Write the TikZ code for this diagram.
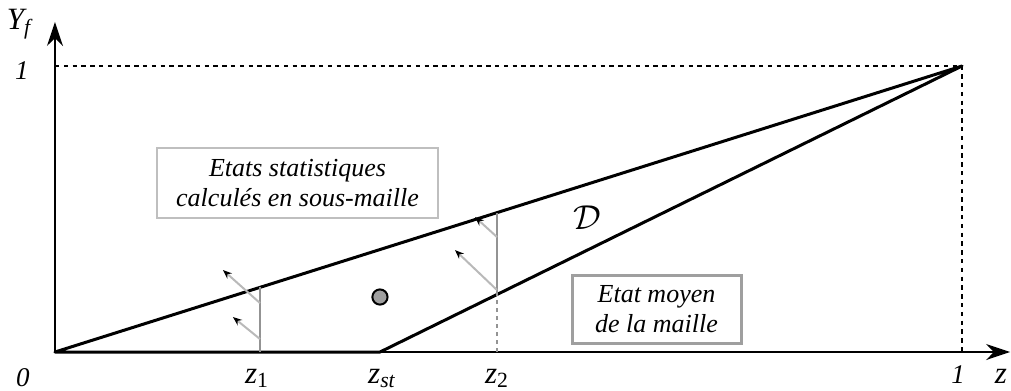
\documentclass[tikz,border=0pt]{standalone}
\usepackage{fontspec}
\setmainfont{Liberation Serif}
\usetikzlibrary{arrows.meta}

\begin{document}
\begin{tikzpicture}[x=453.5pt, y=143pt,
    axe/.style={line width=0.8pt, -{Stealth[length=12pt,width=8pt]}},
    bord/.style={line width=1.5pt},
    tiret/.style={line width=0.6pt, dash pattern=on 2.2pt off 2.2pt},
    coupe/.style={gray!85, line width=1pt},
    fleche/.style={gray!55, line width=1pt, -{Stealth[black,length=4.5pt,width=3.5pt]}},
    boite/.style={align=center, font=\itshape\fontsize{13}{15}\selectfont, inner sep=0pt},
    lab/.style={font=\itshape\fontsize{15.5}{17}\selectfont},
    petit/.style={font=\itshape\fontsize{13.5}{15}\selectfont}]
        % Bounding box
        \useasboundingbox (-0.0606,-0.1329) rectangle (1.0540,1.2308);

        % Points
        \coordinate (O) at (0,0);
        \coordinate (A) at (1,1);
        \coordinate (Zst) at (0.3583,0);
        \coordinate (Z1b) at (0.2260,0);
        \coordinate (Z1h) at (0.2260,0.2260);
        \coordinate (Z2b) at (0.4873,0);
        \coordinate (Z2m) at (0.4873,0.2011);
        \coordinate (Z2h) at (0.4873,0.4873);

        % Axes
        \draw[axe] (O) -- (1.053,0) coordinate (Xmax);
        \draw[axe] (O) -- (0,1.154) coordinate (Ymax);
        \draw[tiret] (0,1) coordinate (Y1) -- (A) -- (1,0) coordinate (X1);

        % Domain D
        \draw[bord, line join=round] (O) -- (A) -- (Zst) -- cycle;

        % Cuts at z1 and z2
        \draw[coupe] (Z1b) -- (Z1h);
        \draw[coupe] (Z2m) -- (Z2h);
        \draw[coupe, dash pattern=on 2pt off 2pt, line width=0.8pt] (Z2b) -- (Z2m);

        % Gradient arrows
        \draw[fleche] (0.2260,0.0455) -- (0.1962,0.1224);
        \draw[fleche] (0.2260,0.1713) -- (0.1852,0.2867);
        \draw[fleche] (0.4873,0.2168) -- (0.4410,0.3566);
        \draw[fleche] (0.4873,0.4021) -- (0.4631,0.4720);

        % Mean state
        \fill[gray!75, draw=black, line width=1pt] (0.3583,0.1923) circle (3.8pt);

        % Boxes
        \node[boite, draw=gray!50, line width=1pt, minimum width=140.5pt, minimum height=35pt]
            (stat) at (0.2674,0.5909) {Etats statistiques\\calculés en sous-maille};
        \node[boite, draw=gray!75, line width=1.5pt, minimum width=84.5pt, minimum height=34pt]
            (moyen) at (0.6632,0.1503) {Etat moyen\\de la maille};
        \node (D) at (0.5866,0.4685) {\fontsize{17}{19}\selectfont$\mathcal{D}$};

        % Axis labels
        \node[lab] (Yf) at (-0.0397,1.1469) {Y\textsubscript{f}};
        \node[lab, anchor=base] (z) at (1.043,-0.1084) {z};
        \node[petit] (un) at (-0.0364,0.9825) {1};
        \node[petit] (zero) at (-0.0353,-0.0909) {0};
        \node[petit, anchor=base] (unz) at (0.9956,-0.1084) {1};
        \node[lab, anchor=base] (z1) at (0.2227,-0.1084) {z\textsubscript{\upshape 1}};
        \node[lab, anchor=base] (zst) at (0.3605,-0.1084) {z\textsubscript{st}};
        \node[lab, anchor=base] (z2) at (0.4873,-0.1084) {z\textsubscript{\upshape 2}};
\end{tikzpicture}
\end{document}
